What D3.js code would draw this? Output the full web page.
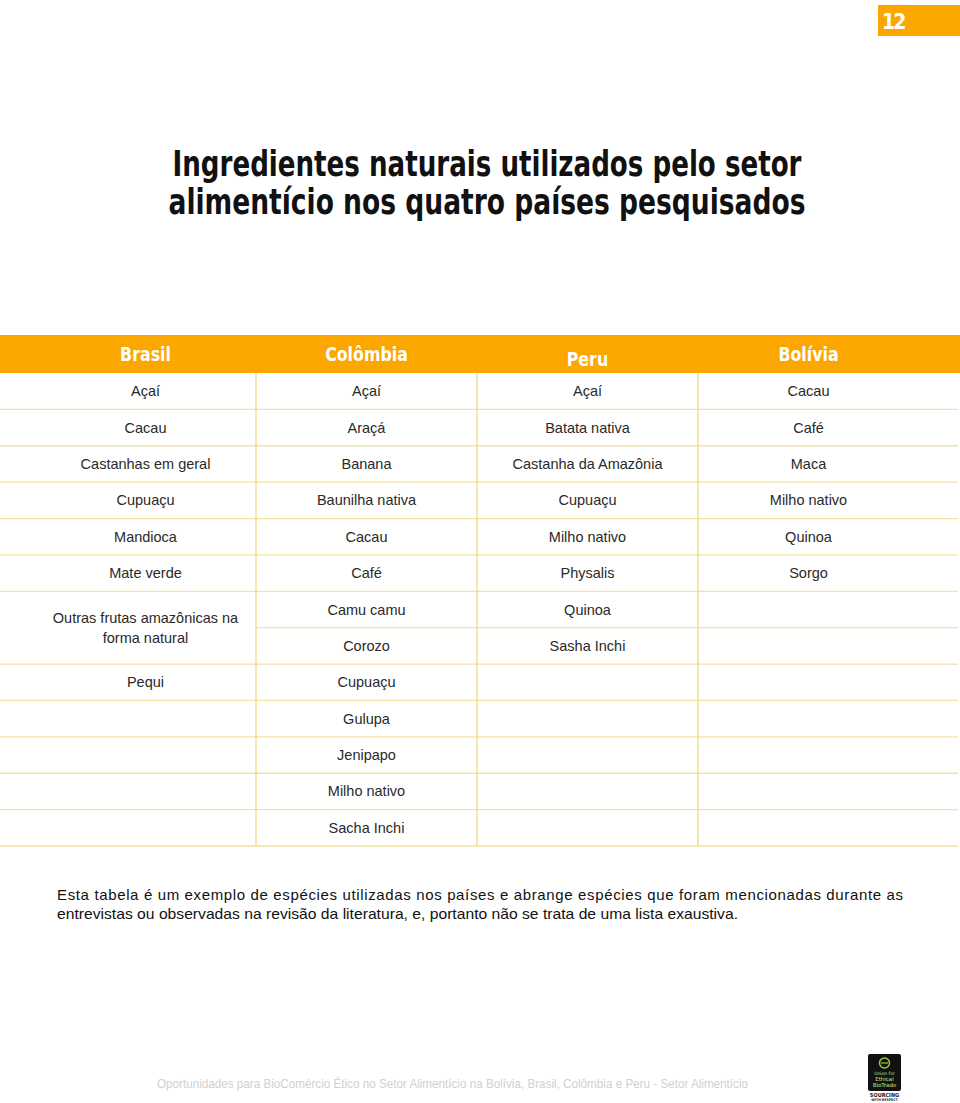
<!DOCTYPE html>
<html>
<head>
<meta charset="utf-8">
<script src="https://cdn.jsdelivr.net/npm/d3@7"></script>
<style>
  body { margin: 0; background: #fff; }
  svg { display: block; }
  .cond { font-family: "DejaVu Sans", sans-serif; font-stretch: condensed; font-weight: bold; }
</style>
</head>
<body>
<svg id="vis"></svg>
<script>
const WIDTH = 960;
const HEIGHT = 1103;

const countries = ["Brasil", "Colômbia", "Peru", "Bolívia"];
const brasil = ["Açaí", "Cacau", "Castanhas em geral", "Cupuaçu", "Mandioca", "Mate verde",
    "Outras frutas amazônicas na|forma natural", "Pequi"];
const brasilSpan = [1, 1, 1, 1, 1, 1, 2, 1];
const colombia = ["Açaí", "Araçá", "Banana", "Baunilha nativa", "Cacau", "Café", "Camu camu",
    "Corozo", "Cupuaçu", "Gulupa", "Jenipapo", "Milho nativo", "Sacha Inchi"];
const peru = ["Açaí", "Batata nativa", "Castanha da Amazônia", "Cupuaçu", "Milho nativo",
    "Physalis", "Quinoa", "Sasha Inchi"];
const bolivia = ["Cacau", "Café", "Maca", "Milho nativo", "Quinoa", "Sorgo"];

const titleLines = ["Ingredientes naturais utilizados pelo setor",
    "alimentício nos quatro países pesquisados"];
const noteLines = ["Esta tabela é um exemplo de espécies utilizadas nos países e abrange espécies que foram mencionadas durante as",
    "entrevistas ou observadas na revisão da literatura, e, portanto não se trata de uma lista exaustiva."];
const footerText = "Oportunidades para BioComércio Ético no Setor Alimentício na Bolívia, Brasil, Colômbia e Peru - Setor Alimentício";
const pageNumber = "12";

const ORANGE = "#FBA700";
const LINE_H = "#F3E2A2";
const LINE_V = "#EFD57E";
const TEXT = "#2a2a2a";
const NROWS = 13;

const svg = d3.select("#vis")
    .attr("width", WIDTH)
    .attr("height", HEIGHT);

// squeeze a text horizontally to look like a condensed face
function squeeze(sel, k) {
    sel.each(function() {
        let w = this.getComputedTextLength();
        d3.select(this)
            .attr("textLength", w * k)
            .attr("lengthAdjust", "spacingAndGlyphs");
    });
}

// page number tab
svg.append("rect")
    .attr("x", 878).attr("y", 5)
    .attr("width", 82).attr("height", 31)
    .attr("fill", ORANGE);
svg.append("text")
    .attr("class", "cond")
    .text(pageNumber)
    .attr("x", 882).attr("y", 29)
    .attr("font-size", "21px")
    .attr("letter-spacing", "-2px")
    .attr("fill", "#fff");

// title
svg.selectAll("text.title")
    .data(titleLines)
    .enter()
    .append("text")
    .attr("class", "title cond")
    .text(d => d)
    .attr("x", 487)
    .attr("y", (d, i) => 176 + i * 38)
    .attr("text-anchor", "middle")
    .attr("font-size", "36px")
    .attr("textLength", (d, i) => i === 0 ? 629 : 637)
    .attr("lengthAdjust", "spacingAndGlyphs")
    .attr("fill", "#111");

// scales
const x = d3.scaleBand()
    .domain(countries)
    .range([35, 919]);

const y = d3.scaleBand()
    .domain(d3.range(NROWS))
    .range([373, 846]);

// header band
svg.append("rect")
    .attr("x", 0).attr("y", 335)
    .attr("width", WIDTH).attr("height", 38)
    .attr("fill", ORANGE);

svg.selectAll("text.header")
    .data(countries)
    .enter()
    .append("text")
    .attr("class", "header cond")
    .text(d => d)
    .attr("x", d => x(d) + x.bandwidth() / 2)
    .attr("y", d => d === "Peru" ? 366 : 361)
    .attr("text-anchor", "middle")
    .attr("font-size", "20px")
    .attr("fill", "#fff")
    .call(squeeze, 0.88);

// build cells: {col, row, span, text}
function cells(col, list, spans) {
    let out = [];
    let r = 0;
    list.forEach(function(t, i) {
        let s = spans ? spans[i] : 1;
        out.push({col: col, row: r, span: s, text: t});
        r += s;
    });
    // empty cells to fill the column
    while (r < NROWS) {
        out.push({col: col, row: r, span: 1, text: ""});
        r++;
    }
    return out;
}
const allCells = [].concat(
    cells("Brasil", brasil, brasilSpan),
    cells("Colômbia", colombia),
    cells("Peru", peru),
    cells("Bolívia", bolivia)
);

// horizontal lines: bottom edge of each cell, across its column
const grid = svg.append("g");
grid.selectAll("line.h")
    .data(allCells)
    .enter()
    .append("line")
    .attr("class", "h")
    .attr("x1", d => d.col === countries[0] ? 0 : x(d.col))
    .attr("x2", d => d.col === countries[3] ? 958 : x(d.col) + x.bandwidth())
    .attr("y1", d => y(d.row + d.span - 1) + y.bandwidth())
    .attr("y2", d => y(d.row + d.span - 1) + y.bandwidth())
    .attr("stroke", LINE_H)
    .attr("stroke-width", 1.3);

// vertical separators
grid.selectAll("line.v")
    .data(countries.slice(1))
    .enter()
    .append("line")
    .attr("class", "v")
    .attr("x1", d => x(d))
    .attr("x2", d => x(d))
    .attr("y1", 373)
    .attr("y2", 846)
    .attr("stroke", LINE_V)
    .attr("stroke-width", 1.2);

// cell text
const cellText = svg.selectAll("text.cell")
    .data(allCells.filter(d => d.text !== ""))
    .enter()
    .append("text")
    .attr("class", "cell")
    .attr("text-anchor", "middle")
    .attr("font-family", "Liberation Sans, Arial, sans-serif")
    .attr("font-size", "14.5px")
    .attr("fill", TEXT);

cellText.each(function(d) {
    let parts = d.text.split("|");
    let cx = x(d.col) + x.bandwidth() / 2;
    let cy = y(d.row) + (y.bandwidth() * d.span) / 2 + 5;
    let lh = 20;
    let t = d3.select(this);
    parts.forEach(function(p, i) {
        t.append("tspan")
            .attr("x", cx)
            .attr("y", cy + (i - (parts.length - 1) / 2) * lh)
            .text(p);
    });
});

// note below the table (first line justified)
svg.selectAll("text.note")
    .data(noteLines)
    .enter()
    .append("text")
    .attr("class", "note")
    .text(d => d)
    .attr("x", 57)
    .attr("y", (d, i) => 900 + i * 19)
    .attr("font-family", "Liberation Sans, Arial, sans-serif")
    .attr("font-size", "15px")
    .attr("fill", "#111")
    .attr("textLength", (d, i) => i === 0 ? 846 : 681)
    .attr("lengthAdjust", (d, i) => i === 0 ? "spacing" : "spacingAndGlyphs");

// footer
svg.append("text")
    .text(footerText)
    .attr("x", 157)
    .attr("y", 1088)
    .attr("font-family", "Liberation Sans, Arial, sans-serif")
    .attr("font-size", "13px")
    .attr("textLength", 591)
    .attr("lengthAdjust", "spacingAndGlyphs")
    .attr("fill", "#d0d0d0");

// logo
const logo = svg.append("g");
logo.append("rect")
    .attr("x", 868).attr("y", 1054)
    .attr("width", 33).attr("height", 37)
    .attr("rx", 2)
    .attr("fill", "#111");
logo.append("circle")
    .attr("cx", 884.5).attr("cy", 1063)
    .attr("r", 5)
    .attr("fill", "none")
    .attr("stroke", "#9ccb3b")
    .attr("stroke-width", 1.5);
logo.append("line")
    .attr("x1", 881).attr("x2", 888)
    .attr("y1", 1063).attr("y2", 1063)
    .attr("stroke", "#9ccb3b")
    .attr("stroke-width", 1.2);
logo.selectAll("text.logo")
    .data(["Union for", "Ethical", "BioTrade"])
    .enter()
    .append("text")
    .attr("class", "logo")
    .text(d => d)
    .attr("x", 884.5)
    .attr("y", (d, i) => 1075 + i * 6)
    .attr("text-anchor", "middle")
    .attr("font-family", "DejaVu Sans, sans-serif")
    .attr("font-size", (d, i) => i === 0 ? "4.5px" : "5.5px")
    .attr("fill", "#c9e28a");
logo.selectAll("text.logo2")
    .data(["SOURCING", "WITH RESPECT"])
    .enter()
    .append("text")
    .attr("class", "logo2 cond")
    .text(d => d)
    .attr("x", 884.5)
    .attr("y", (d, i) => 1097 + i * 4)
    .attr("text-anchor", "middle")
    .attr("font-size", (d, i) => i === 0 ? "5.5px" : "3.5px")
    .attr("fill", "#222");
</script>
</body>
</html>
